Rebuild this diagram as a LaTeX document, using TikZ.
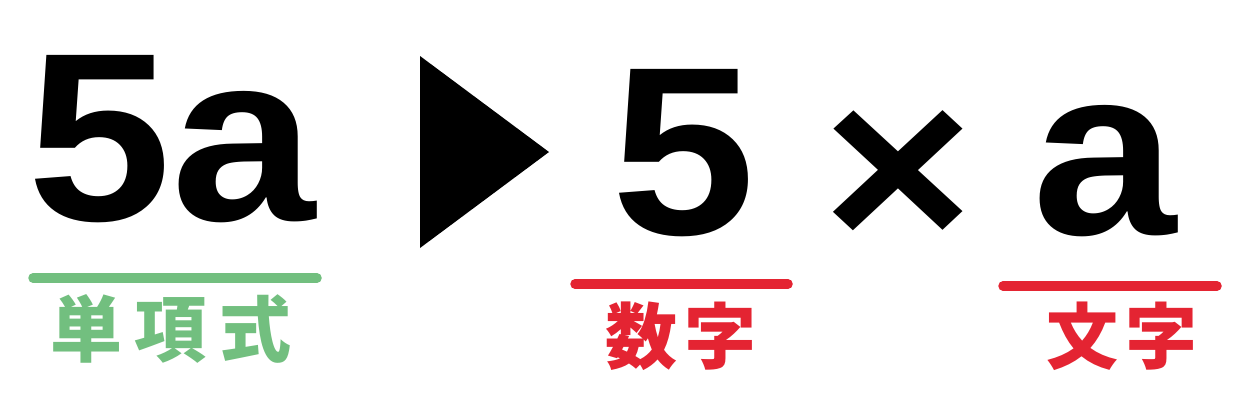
\documentclass[tikz,border=0pt]{standalone}
\usepackage{fontspec}
\usepackage{tikz}
\newfontfamily\bigfont[FakeStretch=1.08]{Liberation Sans}
\newfontfamily\jpfont{Noto Sans CJK JP}

\begin{document}
\begin{tikzpicture}[x=1pt,y=-1pt,line cap=round]
  % Colors
  \colorlet{termcolor}{rgb,255:red,114;green,191;blue,127}
  \colorlet{partcolor}{rgb,255:red,228;green,36;blue,50}

  % Styles
  \tikzstyle{big text}=[inner sep=0pt,font=\bigfont\bfseries\fontsize{240}{244}\selectfont]
  \tikzstyle{label text}=[inner sep=0pt,font=\jpfont\bfseries\fontsize{72}{76}\selectfont]
  \tikzstyle{underline}=[line width=9.5pt]

  \useasboundingbox (0,0) rectangle (1254,413);

  % Top row
  \node[big text,anchor=base] (term) at (172,220) {5a};
  \fill (420,56) -- (549,152) -- (420,248) -- cycle;
  \node[big text,anchor=base] (num) at (684,234) {5};
  \node[big text,anchor=base] (times) at (898,250) {×};
  \node[big text,anchor=base] (letter) at (1105,234) {a};

  % Underlines
  \draw[underline,draw=termcolor] (33,278) -- (317,278);
  \draw[underline,draw=partcolor] (575,284) -- (788,284);
  \draw[underline,draw=partcolor] (1003,286) -- (1217,286);

  % Labels
  \node[label text,text=termcolor] (termname) at (171,329)
    {\addfontfeature{LetterSpace=17}単項式};
  \node[label text,text=partcolor] (numname) at (681,336)
    {\addfontfeature{LetterSpace=11}数字};
  \node[label text,text=partcolor] (lettername) at (1122,336)
    {\addfontfeature{LetterSpace=11}文字};
\end{tikzpicture}
\end{document}
